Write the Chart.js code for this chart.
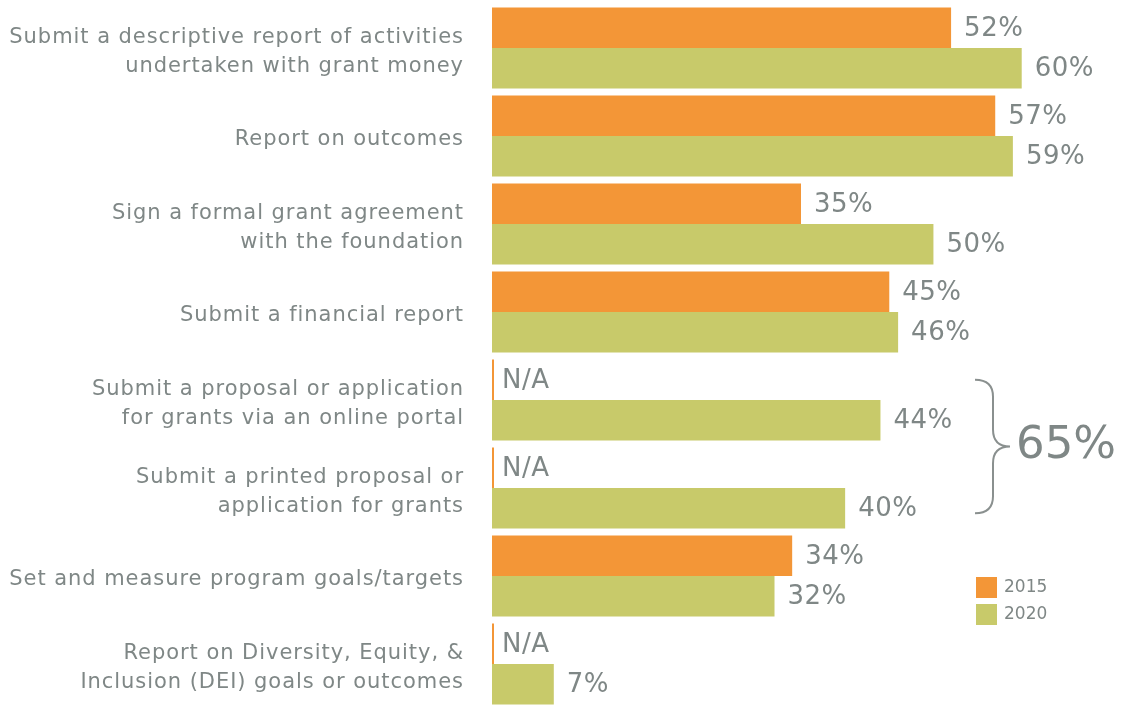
<!DOCTYPE html>
<html>
<head>
<meta charset="utf-8">
<script src="https://cdn.jsdelivr.net/npm/chart.js@4"></script>
<style>
  html, body { margin: 0; padding: 0; background: #fff; overflow: hidden; }
  #wrap { width: 1123px; height: 712px; position: relative; }
</style>
</head>
<body>
<div id="wrap"><canvas id="myChart"></canvas></div>
<script>
const categories = [
  ["Submit a descriptive report of activities", "undertaken with grant money"],
  "Report on outcomes",
  ["Sign a formal grant agreement", "with the foundation"],
  "Submit a financial report",
  ["Submit a proposal or application", "for grants via an online portal"],
  ["Submit a printed proposal or", "application for grants"],
  "Set and measure program goals/targets",
  ["Report on Diversity, Equity, &", "Inclusion (DEI) goals or outcomes"],
];
const values2015 = [52, 57, 35, 45, null, null, 34, null]; // null = N/A
const values2020 = [60, 59, 50, 46, 44, 40, 32, 7];
const seriesNames = ["2015", "2020"];
const bracketText = "65%";

const orange = "#f39637";
const green = "#c8ca6a";
const grey = "#7f8786";
const family = "'DejaVu Sans', sans-serif";

Chart.defaults.font.family = family;

// a bit of tracking, the original font is wide
const spacing = {
  id: "spacing",
  beforeDraw(chart) {
    chart.ctx.letterSpacing = "0.95px";
  }
};

// values written next to the bars, plus the bracket and the legend
const annotations = {
  id: "annotations",
  afterDatasetsDraw(chart) {
    const ctx = chart.ctx;
    ctx.save();
    ctx.letterSpacing = "0.5px";
    ctx.fillStyle = grey;
    ctx.textBaseline = "middle";
    ctx.font = "26px " + family;
    chart.data.datasets.forEach((ds, i) => {
      const meta = chart.getDatasetMeta(i);
      meta.data.forEach((bar, j) => {
        const raw = ds.raw[j];
        if (raw === null) {
          ctx.fillText("N/A", bar.x + 8, bar.y + 1);
        } else {
          ctx.fillText(raw + "%", bar.x + 13, bar.y + 1);
        }
      });
    });

    // bracket round the two proposal rows
    const top = chart.getDatasetMeta(0).data[4].y;
    const bottom = chart.getDatasetMeta(1).data[5].y + 5;
    const mid = (top + bottom) / 2;
    const x0 = 975, x1 = 993, xt = 1010;
    ctx.strokeStyle = "#8a908f";
    ctx.lineWidth = 2;
    ctx.beginPath();
    ctx.moveTo(x0, top);
    ctx.quadraticCurveTo(x1, top, x1, top + 17);
    ctx.lineTo(x1, mid - 17);
    ctx.quadraticCurveTo(x1, mid, xt, mid);
    ctx.quadraticCurveTo(x1, mid, x1, mid + 17);
    ctx.lineTo(x1, bottom - 17);
    ctx.quadraticCurveTo(x1, bottom, x0, bottom);
    ctx.stroke();
    ctx.letterSpacing = "0px";
    ctx.font = "45px " + family;
    ctx.fillText(bracketText, 1016, mid);

    // legend
    ctx.font = "17px " + family;
    [orange, green].forEach((c, i) => {
      const y = 577 + i * 27;
      ctx.fillStyle = c;
      ctx.fillRect(976, y, 21, 21);
      ctx.fillStyle = grey;
      ctx.fillText(seriesNames[i], 1004, y + 11);
    });
    ctx.restore();
  }
};

const ctx = document.getElementById("myChart");

new Chart(ctx, {
  type: "bar",
  data: {
    labels: categories,
    datasets: [
      {
        label: seriesNames[0],
        data: values2015.map(v => v === null ? 0 : v),
        raw: values2015,
        backgroundColor: orange,
        minBarLength: 2,
      },
      {
        label: seriesNames[1],
        data: values2020,
        raw: values2020,
        backgroundColor: green,
      },
    ],
  },
  options: {
    indexAxis: "y",
    responsive: true,
    maintainAspectRatio: false,
    animation: false,
    layout: { padding: { top: 4, bottom: 4, right: 13, left: 0 } },
    datasets: {
      bar: { categoryPercentage: 0.92, barPercentage: 1 },
    },
    plugins: {
      legend: { display: false },
      tooltip: { enabled: false },
    },
    scales: {
      x: {
        display: false,
        min: 0,
        max: 70,
      },
      y: {
        grid: { display: false },
        border: { display: false },
        ticks: {
          color: grey,
          padding: 20,
          labelOffset: 4,
          font: { size: 21, lineHeight: 1.38 },
        },
        afterFit(scale) {
          scale.width = 492;
          scale.paddingTop = 0;
          scale.paddingBottom = 0;
        },
      },
    },
  },
  plugins: [spacing, annotations],
});
</script>
</body>
</html>
